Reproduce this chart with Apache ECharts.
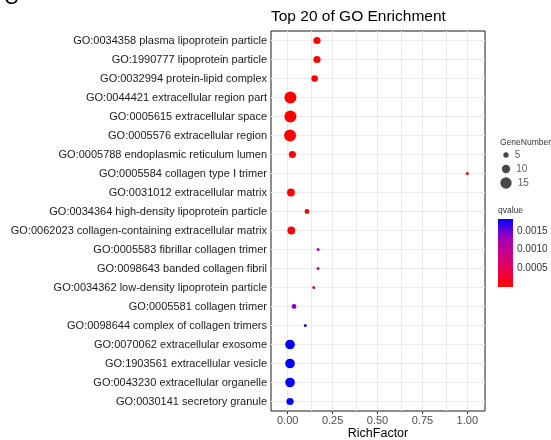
<!DOCTYPE html>
<html><head><meta charset="utf-8">
<script src="https://cdn.jsdelivr.net/npm/echarts@6/dist/echarts.min.js"></script>
<style>html,body{margin:0;padding:0;background:#fff}#c{width:551px;height:440px}</style>
</head><body><div id="c"></div>
<script>
const categories = [
  'GO:0034358 plasma lipoprotein particle',
  'GO:1990777 lipoprotein particle',
  'GO:0032994 protein-lipid complex',
  'GO:0044421 extracellular region part',
  'GO:0005615 extracellular space',
  'GO:0005576 extracellular region',
  'GO:0005788 endoplasmic reticulum lumen',
  'GO:0005584 collagen type \u2160 trimer',
  'GO:0031012 extracellular matrix',
  'GO:0034364 high-density lipoprotein particle',
  'GO:0062023 collagen-containing extracellular matrix',
  'GO:0005583 fibrillar collagen trimer',
  'GO:0098643 banded collagen fibril',
  'GO:0034362 low-density lipoprotein particle',
  'GO:0005581 collagen trimer',
  'GO:0098644 complex of collagen trimers',
  'GO:0070062 extracellular exosome',
  'GO:1903561 extracellular vesicle',
  'GO:0043230 extracellular organelle',
  'GO:0030141 secretory granule'
];
const richFactor = [0.163,0.163,0.150,0.015,0.015,0.013,0.026,1.0,0.018,0.107,0.020,0.169,0.169,0.145,0.035,0.098,0.013,0.013,0.013,0.013];
const geneNumber = [8,8,7,16,16,16,8,1,9,4,9,1,1,1,4,1,12,12,12,8];
const qvalue = [0.00001,0.00001,0.00001,0.000001,0.000001,0.000001,0.00002,0.00003,0.00002,0.00004,0.00002,0.00095,0.00095,0.00092,0.00142,0.00172,0.00182,0.00182,0.00182,0.00182];
const xTicks = [0, 0.25, 0.5, 0.75, 1];
const xGridLines = [0, 0.125, 0.25, 0.375, 0.5, 0.625, 0.75, 0.875, 1];
const sizeLegend = [5, 10, 15];
const qTicks = [0.0005, 0.001, 0.0015];
const qMax = 0.00182;
const gradColors = ['#FF0000', '#E80050', '#CA0088', '#9700C0', '#0000FF'];

function dia(n) { return 2.4 + 0.6 * n; }
const FONT = 'Liberation Sans, Arial, sans-serif';
const gridColor = '#EBEBEB';

const mainData = categories.map((c, i) => [richFactor[i], c, geneNumber[i], qvalue[i]]);

const chart = echarts.init(document.getElementById('c'), null, {renderer: 'canvas'});
chart.setOption({
  animation: false,
  backgroundColor: '#fff',
  textStyle: {fontFamily: FONT},
  title: {
    text: 'Top 20 of GO Enrichment', left: 266, top: 4,
    textStyle: {fontSize: 15.5, fontWeight: 'normal', color: '#000', fontFamily: FONT}
  },
  graphic: [
    {type: 'text', left: 4, top: -12, style: {text: 'C', fill: '#000', font: 'normal 20px ' + FONT}},
    {type: 'text', left: 500, top: 138, style: {text: 'GeneNumber', fill: '#333', font: '8.5px ' + FONT}},
    {type: 'text', left: 498, top: 206, style: {text: 'qvalue', fill: '#333', font: '8.5px ' + FONT}}
  ],
  grid: [
    {left: 271, top: 31, width: 214, height: 380, show: true, borderColor: '#1a1a1a', borderWidth: 1, backgroundColor: 'transparent', outerBoundsMode: 'none', containLabel: false},
    {left: 499, top: 148, width: 14, height: 42, outerBoundsMode: 'none'},
    {left: 498, top: 219, width: 15, height: 68, outerBoundsMode: 'none'}
  ],
  xAxis: [
    {
      gridIndex: 0, type: 'value', min: -0.093, max: 1.0985,
      name: 'RichFactor', nameLocation: 'middle', nameGap: 16, nameMoveOverlap: false,
      nameTextStyle: {fontSize: 12.5, color: '#000', fontFamily: FONT},
      axisLine: {show: false},
      axisTick: {show: true, length: 3, lineStyle: {color: '#333'}, customValues: xTicks},
      axisLabel: {customValues: xTicks, fontSize: 11, color: '#4D4D4D', margin: 4, formatter: v => v.toFixed(2)},
      splitLine: {show: false}
    },
    {gridIndex: 1, type: 'value', min: -1, max: 1, show: false},
    {gridIndex: 2, type: 'category', data: ['q'], show: false}
  ],
  yAxis: [
    {
      gridIndex: 0, type: 'category', data: categories, inverse: true,
      axisLine: {show: false},
      axisTick: {show: true, alignWithLabel: true, length: 3, lineStyle: {color: '#333'}},
      axisLabel: {fontSize: 11, color: '#1a1a1a', margin: 4, interval: 0},
      splitLine: {show: false}
    },
    {gridIndex: 1, type: 'category', data: sizeLegend.map(String), inverse: true, show: false},
    {
      gridIndex: 2, type: 'value', min: 0, max: qMax, position: 'right',
      axisLine: {show: false},
      axisTick: {show: true, inside: true, length: 3, customValues: qTicks, lineStyle: {color: '#fff', width: 1}},
      axisLabel: {customValues: qTicks, fontSize: 10, color: '#333', margin: 4, formatter: v => v.toFixed(4)},
      splitLine: {show: false}
    },
    {
      gridIndex: 2, type: 'value', min: 0, max: qMax, position: 'left',
      axisLine: {show: false},
      axisTick: {show: true, inside: true, length: 3, customValues: qTicks, lineStyle: {color: '#fff', width: 1}},
      axisLabel: {show: false},
      splitLine: {show: false}
    }
  ],
  visualMap: {
    type: 'continuous', show: false, dimension: 3, seriesIndex: 1,
    min: 0, max: qMax, inRange: {color: gradColors}
  },
  series: [
    {
      type: 'scatter', xAxisIndex: 0, yAxisIndex: 0, data: [], z: 1, silent: true,
      markLine: {
        silent: true, symbol: 'none', animation: false, z: 1,
        label: {show: false},
        lineStyle: {color: gridColor, width: 1, type: 'solid'},
        data: xGridLines.map(v => ({xAxis: v})).concat(categories.map(c => ({yAxis: c})))
      }
    },
    {
      type: 'scatter', xAxisIndex: 0, yAxisIndex: 0, z: 10,
      data: mainData,
      symbolSize: v => dia(v[2]),
      itemStyle: {opacity: 1}
    },
    {
      type: 'scatter', xAxisIndex: 1, yAxisIndex: 1, z: 10,
      data: sizeLegend.map(n => [0, String(n), n]),
      symbolSize: v => dia(v[2]),
      itemStyle: {color: '#1a1a1a'},
      label: {show: true, position: 'right', distance: 6, formatter: p => String(p.value[2]), fontSize: 10, color: '#333'}
    },
    {
      type: 'bar', xAxisIndex: 2, yAxisIndex: 2, barWidth: '100%',
      data: [qMax], silent: true,
      itemStyle: {
        color: {type: 'linear', x: 0, y: 1, x2: 0, y2: 0,
          colorStops: gradColors.map((c, i) => ({offset: i / (gradColors.length - 1), color: c}))}
      }
    }
  ]
});
</script>
</body></html>
